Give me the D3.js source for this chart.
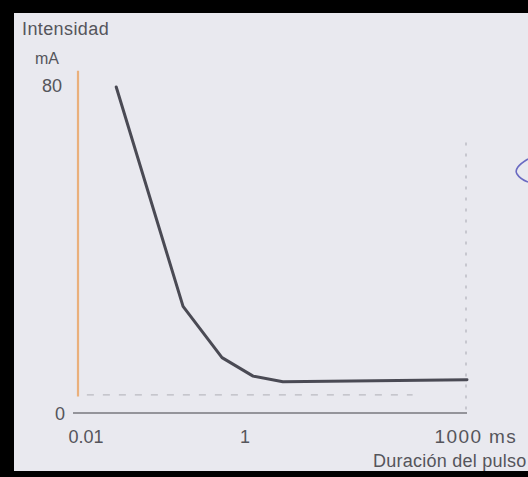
<!DOCTYPE html>
<html>
<head>
<meta charset="utf-8">
<script src="https://cdn.jsdelivr.net/npm/d3@7"></script>
<style>
  html, body { margin: 0; padding: 0; background: #000; }
  svg { display: block; }
  text { font-family: "Liberation Sans", Arial, sans-serif; fill: #55555b; }
</style>
</head>
<body>
<svg id="chart" width="528" height="477"></svg>
<script>
// Strength–duration curve: stimulus intensity (mA) vs pulse duration (ms, log scale)
const durations = [0.031, 0.224, 0.71, 1.78, 4.3, 1000];
const intensities = [79.5, 26, 13.5, 9, 7.6, 8.1];
const xTicks = [0.01, 1, 1000];
const xTickLabels = ["0.01", "1", "1000 ms"];
const yTicks = [0, 80];
const yLabelTitle = "Intensidad";
const yLabelUnit = "mA";
const xLabelTitle = "Duración del pulso";

const W = 528, H = 477;
const svg = d3.select("#chart");

// paper + dark scan frame
svg.append("rect").attr("width", W).attr("height", H).attr("fill", "#000");
svg.append("rect").attr("x", 14).attr("y", 13).attr("width", W - 14).attr("height", 458)
  .attr("fill", "#e9e9ef");

const x = d3.scaleLog().domain([0.01, 1000]).range([78, 467]);
const y = d3.scaleLinear().domain([0, 80]).range([413, 85]);

// faint guide marks
const g = svg.append("g");
g.append("line")
  .attr("x1", x(1000) - 1).attr("x2", x(1000) - 1)
  .attr("y1", y(66)).attr("y2", y(0))
  .attr("stroke", "#9c9ca4").attr("stroke-width", 1.2)
  .attr("stroke-dasharray", "3,8").attr("opacity", 0.7);
g.append("line")
  .attr("x1", x(0.013)).attr("x2", x(200))
  .attr("y1", y(4.4)).attr("y2", y(4.4))
  .attr("stroke", "#9c9ca4").attr("stroke-width", 1.2)
  .attr("stroke-dasharray", "7,9").attr("opacity", 0.6);

// x axis
const xAxis = d3.axisBottom(x).tickValues(xTicks).tickSize(0)
  .tickFormat((d, i) => xTickLabels[i]);
const xg = svg.append("g").attr("transform", `translate(0,${y(0)})`).call(xAxis);
xg.select(".domain").attr("stroke", "#77777e").attr("stroke-width", 1.4)
  .attr("d", `M${x(0.01) - 5},0H${x(1000)}`);
xg.selectAll(".tick text")
  .attr("fill", "#55555b").attr("font-size", 18).attr("y", 30).attr("dy", 0)
  .attr("font-family", "Liberation Sans, Arial, sans-serif")
  .each(function (d, i) {
    const t = d3.select(this);
    if (i === 0) t.attr("text-anchor", "start").attr("x", -10);
    else if (i === 1) t.attr("text-anchor", "middle").attr("x", 11);
    else t.attr("text-anchor", "start").attr("x", -33).attr("letter-spacing", 1.4).attr("font-size", 19);
  });

// y axis (labels only; the coloured rule is drawn below)
const yAxis = d3.axisLeft(y).tickValues(yTicks).tickSize(0);
const yg = svg.append("g").attr("transform", `translate(${x(0.01)},0)`).call(yAxis);
yg.select(".domain").remove();
yg.selectAll(".tick text")
  .attr("fill", "#55555b").attr("font-size", 18)
  .attr("font-family", "Liberation Sans, Arial, sans-serif")
  .attr("x", (d) => d === 0 ? -13 : -16)
  .attr("dy", "0.36em");

svg.append("line")
  .attr("x1", x(0.01)).attr("x2", x(0.01))
  .attr("y1", y(83.5)).attr("y2", y(4))
  .attr("stroke", "#eab07c").attr("stroke-width", 2.2);

// curve
const line = d3.line().x((d) => x(d[0])).y((d) => y(d[1]));
svg.append("path")
  .datum(durations.map((d, i) => [d, intensities[i]]))
  .attr("d", line)
  .attr("fill", "none").attr("stroke", "#4a4a54").attr("stroke-width", 3)
  .attr("stroke-linejoin", "round").attr("stroke-linecap", "round");

// axis titles
svg.append("text").attr("x", 22).attr("y", 35).attr("font-size", 18)
  .attr("letter-spacing", 0.4).text(yLabelTitle);
svg.append("text").attr("x", 35).attr("y", 64).attr("font-size", 16).text(yLabelUnit);
svg.append("text").attr("x", 373).attr("y", 467).attr("font-size", 18)
  .attr("letter-spacing", 0.25).text(xLabelTitle);

// margin pen mark
svg.append("path")
  .attr("d", "M528,159 Q513,168 517,174 Q520,179 528,182")
  .attr("fill", "none").attr("stroke", "#6a6ac2").attr("stroke-width", 1.6);

// bottom frame edge
svg.append("rect").attr("x", 0).attr("y", 471).attr("width", W).attr("height", 6).attr("fill", "#000");
</script>
</body>
</html>
